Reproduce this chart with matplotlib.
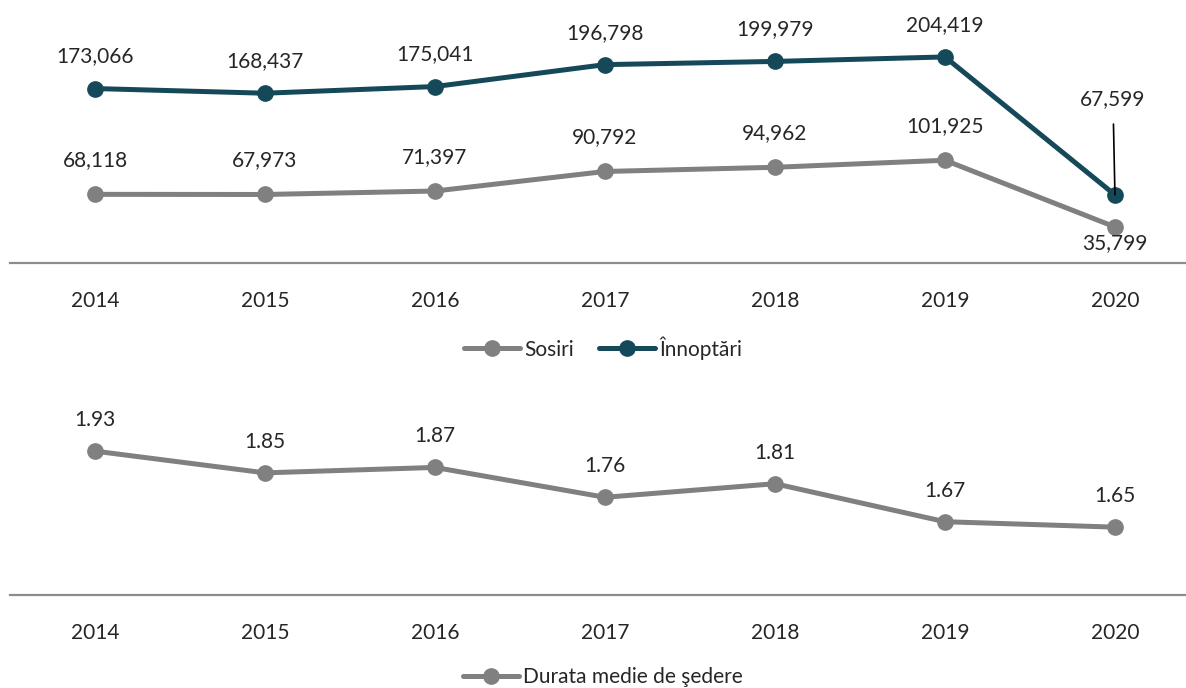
import matplotlib
matplotlib.use("Agg")
import matplotlib.pyplot as plt
from matplotlib.lines import Line2D

plt.rcParams["font.family"] = ["Lato", "DejaVu Sans"]

years = ["2014", "2015", "2016", "2017", "2018", "2019", "2020"]
sosiri = [68118, 67973, 71397, 90792, 94962, 101925, 35799]
innoptari = [173066, 168437, 175041, 196798, 199979, 204419, 67599]
durata = [1.93, 1.85, 1.87, 1.76, 1.81, 1.67, 1.65]

GREY = "#808080"
TEAL = "#15495A"
AXIS = "#8c8c8c"
TXT = "#262626"

W, H = 1186, 688
fig = plt.figure(figsize=(W / 100, H / 100), dpi=100)


def px_axes(left, top, right, bottom):
    return fig.add_axes([left / W, 1 - bottom / H, (right - left) / W, (bottom - top) / H])


def style(ax):
    for s in ("left", "right", "top"):
        ax.spines[s].set_visible(False)
    ax.spines["bottom"].set_color(AXIS)
    ax.spines["bottom"].set_linewidth(1.6)
    ax.set_yticks([])
    ax.set_xticks(range(len(years)))
    ax.set_xticklabels(years, fontsize=15, color=TXT)
    ax.tick_params(axis="x", length=0, pad=20)
    ax.set_xlim(-0.5, 6.418)
    ax.patch.set_alpha(0)


line_kw = dict(lw=3.6, marker="o", markersize=11, solid_capstyle="round")

# top panel
ax1 = px_axes(10, 11, 1186, 263)
style(ax1)
ax1.set_ylim(0, 250000)
x = range(len(years))
ax1.plot(x, sosiri, color=GREY, **line_kw)
ax1.plot(x, innoptari, color=TEAL, **line_kw)
for i, v in enumerate(sosiri):
    dy = -16 if i == 6 else 34
    ax1.annotate(f"{v:,}", (i, v), xytext=(0, dy), textcoords="offset pixels",
                 ha="center", va="center", fontsize=15, color=TXT)
for i, v in enumerate(innoptari):
    if i == 6:
        ax1.annotate(f"{v:,}", (i, v), xytext=(-2, 96), textcoords="offset pixels",
                     ha="center", va="center", fontsize=15, color=TXT,
                     arrowprops=dict(arrowstyle="-", color="black", lw=1.2,
                                     shrinkA=9, shrinkB=0))
    else:
        ax1.annotate(f"{v:,}", (i, v), xytext=(0, 32), textcoords="offset pixels",
                     ha="center", va="center", fontsize=15, color=TXT)

h1 = Line2D([], [], color=GREY, **line_kw)
h2 = Line2D([], [], color=TEAL, **line_kw)
fig.legend([h1, h2], ["Sosiri", "Înnoptări"], loc="center", bbox_to_anchor=(603 / W, 1 - 348 / H),
           ncol=2, frameon=False, fontsize=15, handlelength=2.7, handletextpad=0.2,
           columnspacing=1.2, labelcolor=TXT)

# bottom panel
ax2 = px_axes(10, 405, 1186, 595)
style(ax2)
ax2.set_ylim(1.4, 2.1)
ax2.plot(x, durata, color=GREY, **line_kw)
for i, v in enumerate(durata):
    ax2.annotate(f"{v:.2f}", (i, v), xytext=(0, 31), textcoords="offset pixels",
                 ha="center", va="center", fontsize=15, color=TXT)

h3 = Line2D([], [], color=GREY, **line_kw)
fig.legend([h3], ["Durata medie de şedere"], loc="center", bbox_to_anchor=(603 / W, 1 - 677 / H),
           frameon=False, fontsize=15, handlelength=2.7, handletextpad=0.2, labelcolor=TXT)

fig.savefig("out.png", dpi=100)
